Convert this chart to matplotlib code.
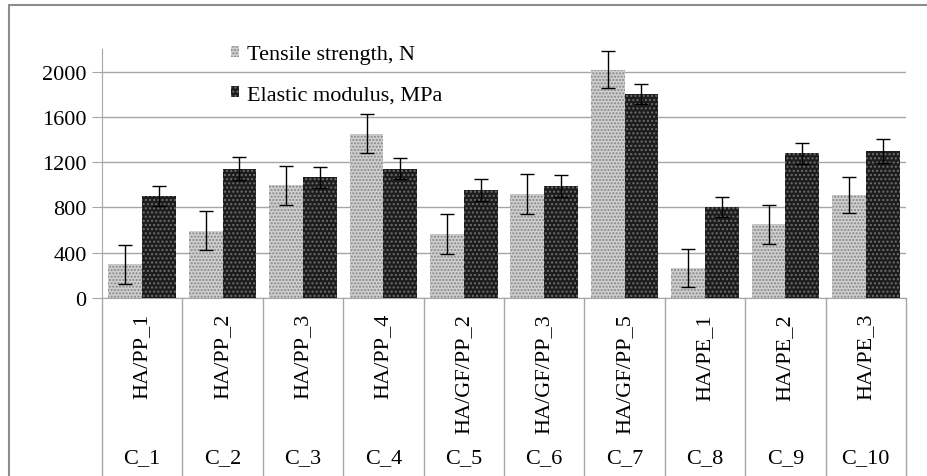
import matplotlib
matplotlib.use("Agg")
import matplotlib.pyplot as plt
import numpy as np
from matplotlib.patches import Rectangle
from matplotlib.lines import Line2D

# data
codes = ["C_1", "C_2", "C_3", "C_4", "C_5", "C_6", "C_7", "C_8", "C_9", "C_10"]
names = ["HA/PP_1", "HA/PP_2", "HA/PP_3", "HA/PP_4", "HA/GF/PP_2",
         "HA/GF/PP_3", "HA/GF/PP_5", "HA/PE_1", "HA/PE_2", "HA/PE_3"]
tensile = [298, 596, 994, 1451, 564, 918, 2018, 263, 652, 912]
tensile_err = [171, 171, 174, 174, 177, 176, 165, 170, 171, 161]
modulus = [900, 1142, 1065, 1142, 953, 991, 1802, 805, 1280, 1298]
modulus_err = [91, 103, 91, 94, 100, 95, 90, 91, 92, 103]

plt.rcParams['font.family'] = ['Liberation Serif', 'DejaVu Serif']
plt.rcParams['hatch.linewidth'] = 1.0

fig = plt.figure(figsize=(9.28, 4.77), dpi=100)
ax = fig.add_axes([102 / 928, 1 - 299 / 477, 804 / 928, 249 / 477])

x = np.arange(len(codes))
w = 0.42
grid_c = '#a6a6a6'
fs = 16

ax.bar(x - w / 2, tensile, w, facecolor='#cfcfcf', edgecolor='#858585',
       hatch='.....', linewidth=0, label='Tensile strength, N', zorder=3)
ax.bar(x + w / 2, modulus, w, facecolor='#1c1c1c', edgecolor='#6e6e6e',
       hatch='....', linewidth=0, label='Elastic modulus, MPa', zorder=3)
ax.errorbar(x - w / 2, tensile, yerr=tensile_err, fmt='none', ecolor='black',
            elinewidth=1, capsize=5, capthick=1, zorder=4)
ax.errorbar(x + w / 2, modulus, yerr=modulus_err, fmt='none', ecolor='black',
            elinewidth=1, capsize=5, capthick=1, zorder=4)

ax.set_xlim(-0.5, len(codes) - 0.5)
ax.set_ylim(0, 2200)
ax.set_yticks(np.arange(0, 2001, 400))
ax.tick_params(axis='y', labelsize=fs, length=7, color=grid_c, pad=4)
ax.set_xticks([])
ax.grid(axis='y', color=grid_c, linewidth=1, zorder=0)
for s in ['top', 'right']:
    ax.spines[s].set_visible(False)
ax.spines['left'].set_color(grid_c)
ax.spines['bottom'].set_color(grid_c)

# multi-level category axis
for i in range(len(codes) + 1):
    ax.add_line(Line2D([i - 0.5, i - 0.5], [0, -1], transform=ax.get_xaxis_transform(),
                       color=grid_c, linewidth=1, clip_on=False))
for i in range(len(codes)):
    ax.text(i, -0.06, names[i], rotation=90, ha='center', va='top', fontsize=fs,
            transform=ax.get_xaxis_transform())
    ax.text(i, -0.64, codes[i], ha='center', va='center', fontsize=fs,
            transform=ax.get_xaxis_transform())

ax.legend(loc='upper left', bbox_to_anchor=(0.135, 1.095), frameon=False, fontsize=fs,
          handlelength=0.4, handleheight=0.4, handletextpad=0.35, labelspacing=0.95)

# outer chart border
fig.patches.append(Rectangle((9 / 928, -0.1), 1.1, 1 - 6 / 477 + 0.1,
                             transform=fig.transFigure, fill=False,
                             edgecolor='#8c8c8c', linewidth=1.5))

fig.savefig('out.png', dpi=100)
